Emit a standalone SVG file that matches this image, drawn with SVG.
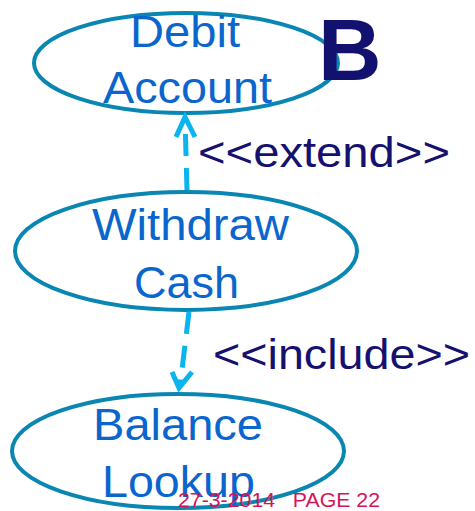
<svg xmlns="http://www.w3.org/2000/svg" width="475" height="511" viewBox="0 0 475 511">
<style>
.uc{fill:#fff;stroke:#0a86b2;stroke-width:4}
.t{font-family:"Liberation Sans",Arial,sans-serif;font-size:45px;fill:#0a66cc}
.st{font-family:"Liberation Sans",Arial,sans-serif;font-size:43px;fill:#16106e}
.c{fill:none;stroke:#0ab4ee;stroke-width:5;stroke-linecap:butt}
.dash{stroke-dasharray:22,12}
</style>
<rect width="475" height="511" fill="#fff"/>
<g id="debit">
<ellipse class="uc" cx="186" cy="63" rx="152" ry="50"/>
<text class="t" x="130" y="47" textLength="110" lengthAdjust="spacingAndGlyphs">Debit</text>
<text class="t" x="103" y="103" textLength="169" lengthAdjust="spacingAndGlyphs">Account</text>
</g>
<g id="withdraw">
<ellipse class="uc" cx="186" cy="251" rx="171" ry="59"/>
<text class="t" x="92" y="240" textLength="197" lengthAdjust="spacingAndGlyphs">Withdraw</text>
<text class="t" x="134" y="298" textLength="105" lengthAdjust="spacingAndGlyphs">Cash</text>
</g>
<g id="balance">
<ellipse class="uc" cx="178" cy="451" rx="166" ry="57"/>
<text class="t" x="93" y="440" textLength="170" lengthAdjust="spacingAndGlyphs">Balance</text>
<text class="t" x="102" y="497" textLength="153" lengthAdjust="spacingAndGlyphs">Lookup</text>
</g>
<g id="connectors">
<path class="c dash" d="M187 190 L185 118"/>
<path class="c" d="M176 137 L185 117 L195 137"/>
<path class="c dash" d="M189 312 L180 386"/>
<path class="c" d="M172 372 L179 388 L192 372"/>
</g>
<text class="st" x="198" y="167" textLength="252" lengthAdjust="spacingAndGlyphs">&lt;&lt;extend&gt;&gt;</text>
<text class="st" x="213" y="369" textLength="257" lengthAdjust="spacingAndGlyphs">&lt;&lt;include&gt;&gt;</text>
<text x="318" y="80" font-family="Liberation Sans,Arial,sans-serif" font-weight="bold" font-size="88" fill="#13116f">B</text>
<text x="178" y="507" font-family="Liberation Sans,Arial,sans-serif" font-size="20" fill="#d4145a" xml:space="preserve" textLength="202" lengthAdjust="spacingAndGlyphs">27-3-2014   PAGE 22</text>
</svg>
